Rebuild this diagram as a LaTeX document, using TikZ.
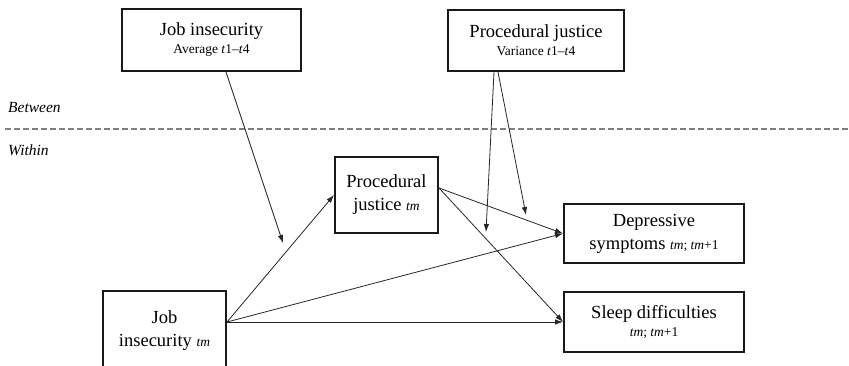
\documentclass[tikz,border=0pt]{standalone}
\usepackage{fontspec}
\setmainfont{Liberation Serif}
\usetikzlibrary{arrows.meta,calc}
\newcommand{\smtxt}[1]{{\fontsize{13.5}{16}\selectfont #1}}
\begin{document}
\begin{tikzpicture}[x=1pt,y=-1pt,
  box/.style={draw=black!90,line width=2pt,inner sep=0pt,align=center,
    font=\fontsize{18.5}{23}\selectfont},
  conn/.style={draw=black!85,line width=0.8pt,-{Latex[length=8pt,width=5.5pt]}},
  lvl/.style={anchor=base west,inner sep=0pt,font=\fontsize{15.5}{18}\selectfont\itshape}]
\useasboundingbox (0,0) rectangle (849,366);
% boxes
\node[box,minimum width=179pt,minimum height=62pt] (JIavg) at (211.5,40)
  {Job insecurity\\[-5pt]\smtxt{Average \textit{t}1--\textit{t}4}};
\node[box,minimum width=176pt,minimum height=61pt] (PJvar) at (536,40.5)
  {Procedural justice\\[-5pt]\smtxt{Variance \textit{t}1--\textit{t}4}};
\node[box,minimum width=103pt,minimum height=76pt] (PJtm) at (386.5,195)
  {Procedural\\justice \smtxt{\textit{tm}}};
\node[box,minimum width=180pt,minimum height=59pt] (Dep) at (654,233.5)
  {Depressive\\symptoms \smtxt{\textit{tm}; \textit{tm}+1}};
\node[box,minimum width=180pt,minimum height=60pt] (Sleep) at (654,322)
  {Sleep difficulties\\[-5pt]\smtxt{\textit{tm}; \textit{tm}+1}};
\node[box,minimum width=123pt,minimum height=80pt] (JItm) at (164.5,331)
  {Job\\insecurity \smtxt{\textit{tm}}};
% level labels and divider
\node[lvl] (between) at (8,113) {Between};
\node[lvl] (within) at (8,156) {Within};
\coordinate (dl) at (5,129);
\coordinate (dr) at (849,129);
\draw[black!50,line width=1.2pt,dash pattern=on 6pt off 3pt] (dl) -- (dr);
% connector endpoints
\coordinate (jiavgout) at ([xshift=14.5pt]JIavg.south);
\coordinate (mod1) at (283,243);
\coordinate (jiout) at ([yshift=-32pt]JItm.north east);
\coordinate (pjout) at ([yshift=7pt]PJtm.east);
\coordinate (pjv1) at ([xshift=-42pt]PJvar.south);
\coordinate (pjv2) at ([xshift=-38pt]PJvar.south);
\coordinate (mod2) at (486,232);
\coordinate (mod3) at (526,215);
% connectors
\draw[conn] (jiavgout) -- (mod1);
\draw[conn] (jiout) -- (PJtm.west);
\draw[conn] (jiout) -- (Dep.west);
\draw[conn] (jiout) -- (Sleep.west);
\draw[conn] (pjout) -- (Dep.west);
\draw[conn] (pjout) -- (Sleep.west);
\draw[conn] (pjv1) -- (mod2);
\draw[conn] (pjv2) -- (mod3);
\end{tikzpicture}
\end{document}
